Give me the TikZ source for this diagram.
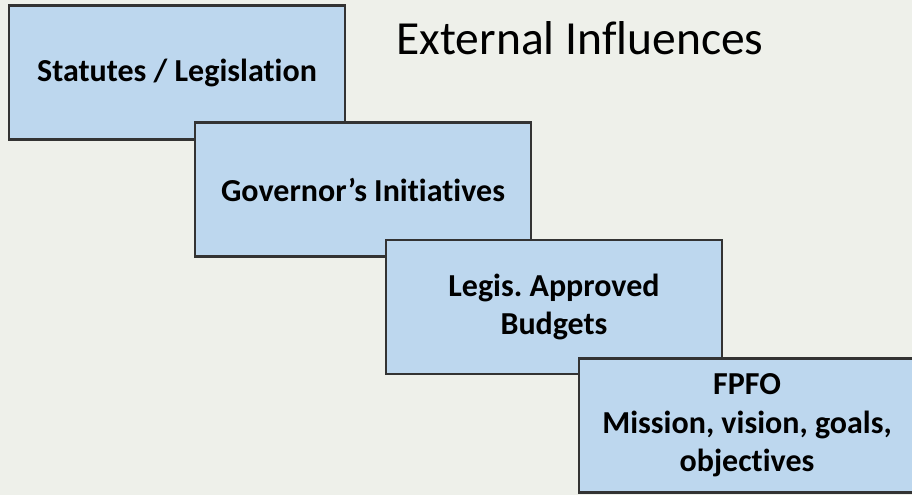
\documentclass[tikz,border=0pt]{standalone}
\usepackage{fontspec}
\setmainfont[Ligatures=NoCommon]{Carlito}
\frenchspacing
\definecolor{bgc}{HTML}{EEF0EA}
\definecolor{boxfill}{HTML}{BDD7EE}
\definecolor{boxline}{HTML}{333333}
\begin{document}
\begin{tikzpicture}[x=1pt,y=-1pt,
  stepbox/.style={draw=boxline, fill=boxfill, line width=2.5pt, rectangle,
    minimum width=336pt, minimum height=134pt, inner sep=0pt, align=center,
    font=\bfseries\fontsize{32}{38.5}\selectfont},
  titletext/.style={font=\fontsize{47.5}{56}\selectfont, inner sep=0pt, anchor=base}]
\fill[bgc] (0,0) rectangle (912,495);
\useasboundingbox (0,0) rectangle (912,495);
\node[stepbox] (s1) at (177,72.5) {Statutes / Legislation};
\node[stepbox] (s2) at (363,189.5) {Governor’s Initiatives};
\node[stepbox] (s3) at (554,307) {Legis. Approved\\Budgets};
\node[stepbox] (s4) at (747,425.5) {FPFO\\Mission, vision, goals,\\objectives};
\node[titletext] (title) at (580,55) {External Influences};
\end{tikzpicture}
\end{document}
